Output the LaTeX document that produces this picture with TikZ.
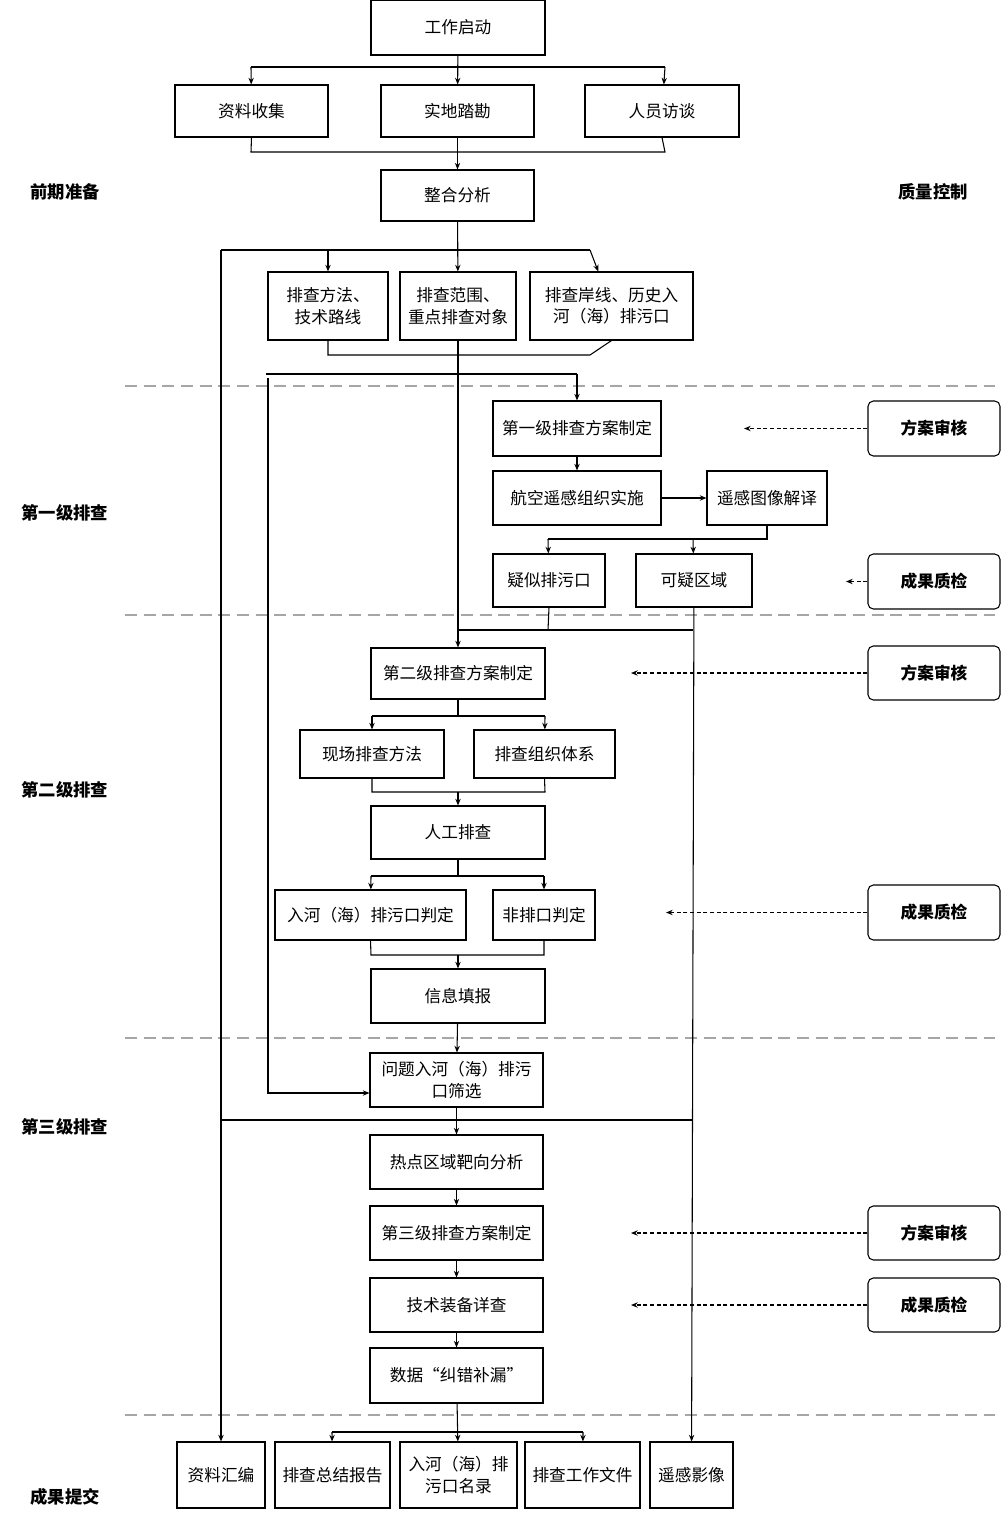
\documentclass[tikz,border=0pt]{standalone}
\usepackage{fontspec}
\setmainfont{Noto Sans CJK SC}
\usetikzlibrary{arrows.meta}
\tikzset{
  box/.style={draw,thick,inner sep=1pt,align=center,font=\fontsize{12.5}{16}\selectfont},
  check/.style={box,rounded corners=4pt},
  stage/.style={font=\fontsize{13}{16}\selectfont\bfseries},
  raja/.style={gray!70,line width=1.4pt,dash pattern=on 9pt off 5pt},
  >={Stealth[length=5pt,width=4pt]}
}
\newcommand\laatikko[7][box]{
\node[#1,minimum width={(#5-#3)*0.75pt},minimum height={(#6-#4)*0.75pt}] (#2) at ({(#3+#5)/2},{(#4+#6)/2}) {#7};
}
\begin{document}
\begin{tikzpicture}[x=0.75pt,y=-0.75pt]
\useasboundingbox (0,0) rectangle (1001,1523);
% laatikot
\laatikko{start}{371}{0}{545}{55}{工作启动}
\laatikko{zl}{175}{85}{328}{137}{资料收集}
\laatikko{sd}{381}{85}{534}{137}{实地踏勘}
\laatikko{ry}{585}{85}{739}{137}{人员访谈}
\laatikko{zh}{381}{170}{534}{221}{整合分析}
\laatikko{ff}{268}{272}{388}{340}{排查方法、\\技术路线}
\laatikko{fw}{400}{272}{516}{340}{排查范围、\\重点排查对象}
\laatikko{ax}{530}{272}{693}{340}{排查岸线、历史入\\河（海）排污口}
\laatikko{y1}{493}{401}{661}{456}{第一级排查方案制定}
\laatikko{hk}{493}{471}{661}{525}{航空遥感组织实施}
\laatikko{yg}{707}{471}{827}{525}{遥感图像解译}
\laatikko{ys}{493}{554}{605}{607}{疑似排污口}
\laatikko{ky}{636}{554}{752}{607}{可疑区域}
\laatikko{y2}{371}{648}{545}{699}{第二级排查方案制定}
\laatikko{xc}{300}{730}{444}{778}{现场排查方法}
\laatikko{zz}{474}{730}{615}{778}{排查组织体系}
\laatikko{rg}{371}{806}{545}{859}{人工排查}
\laatikko{pd}{275}{890}{466}{940}{入河（海）排污口判定}
\laatikko{fp}{493}{890}{595}{940}{非排口判定}
\laatikko{xx}{371}{969}{545}{1023}{信息填报}
\laatikko{wt}{370}{1053}{543}{1107}{问题入河（海）排污\\口筛选}
\laatikko{rd}{370}{1135}{543}{1189}{热点区域靶向分析}
\laatikko{y3}{370}{1206}{543}{1260}{第三级排查方案制定}
\laatikko{jz}{370}{1278}{543}{1332}{技术装备详查}
\laatikko{sj}{370}{1348}{543}{1403}{数据“纠错补漏”}
\laatikko{o1}{177}{1442}{265}{1508}{资料汇编}
\laatikko{o2}{275}{1442}{390}{1508}{排查总结报告}
\laatikko{o3}{400}{1442}{517}{1508}{入河（海）排\\污口名录}
\laatikko{o4}{525}{1442}{640}{1508}{排查工作文件}
\laatikko{o5}{650}{1442}{733}{1508}{遥感影像}
\laatikko[check]{q1}{868}{401}{1000}{456}{\bfseries 方案审核}
\laatikko[check]{q2}{868}{554}{1000}{609}{\bfseries 成果质检}
\laatikko[check]{q3}{868}{646}{1000}{700}{\bfseries 方案审核}
\laatikko[check]{q4}{868}{885}{1000}{940}{\bfseries 成果质检}
\laatikko[check]{q5}{868}{1206}{1000}{1260}{\bfseries 方案审核}
\laatikko[check]{q6}{868}{1278}{1000}{1332}{\bfseries 成果质检}
% vaiheet
\node[stage] (l1) at (65,192) {前期准备};
\node[stage] (l2) at (933,192) {质量控制};
\node[stage] (l3) at (65,513) {第一级排查};
\node[stage] (l4) at (65,790) {第二级排查};
\node[stage] (l5) at (65,1127) {第三级排查};
\node[stage] (l6) at (65,1497) {成果提交};
\foreach \y in {386,615,1038,1415}
  \draw[raja] (125,\y) -- (995,\y);
% liitokset
\coordinate (a1) at (251,67); \coordinate (a2) at (665,67);
\coordinate (b1) at (251,152); \coordinate (b2) at (665,152);
\coordinate (c1) at (221,250); \coordinate (c2) at (328,250); \coordinate (c3) at (590,250);
\coordinate (d1) at (328,355); \coordinate (d2) at (590,355);
\coordinate (e1) at (266,374); \coordinate (e2) at (577,374); \coordinate (e3) at (268,1093);
\coordinate (f1) at (767,539); \coordinate (f2) at (548,539); \coordinate (f3) at (693,539);
\coordinate (g1) at (548,630); \coordinate (g2) at (458,630); \coordinate (g3) at (693,630);
\coordinate (h1) at (372,716); \coordinate (h2) at (545,716);
\coordinate (h3) at (372,792); \coordinate (h4) at (545,792); \coordinate (h5) at (458,792);
\coordinate (i1) at (371,876); \coordinate (i2) at (544,876);
\coordinate (i3) at (371,955); \coordinate (i4) at (544,955); \coordinate (i5) at (458,955);
\coordinate (k1) at (222,1120); \coordinate (k2) at (693,1120);
\coordinate (m1) at (332,1432); \coordinate (m2) at (583,1432);
\draw[thick,->] (start) -- (sd);
\draw[thick] (a1) -- (a2);
\draw[thick,->] (a1) -- (zl);
\draw[thick,->] (a2) -- (ry);
\draw[thick] (zl.south) -- (b1) -- (b2) -- (ry.south);
\draw[thick,->] (sd) -- (zh);
\draw[thick,->] (zh) -- (fw);
\draw[thick] (c1) -- (c3);
\draw[thick,->] (c2) -- (ff);
\draw[thick,->] (c3) -- (ax);
\draw[thick,->] (c1) -- (o1);
\draw[thick] (ff.south) -- (d1) -- (d2) -- (ax.south);
\draw[thick,->] (fw) -- (y2);
\draw[thick] (e1) -- (e2);
\draw[thick,->] (e2) -- (y1);
\draw[thick,->] (268,378) -- (e3) -- (e3 -| wt.west);
\draw[thick,->] (y1) -- (hk);
\draw[thick,->] (hk) -- (yg);
\draw[thick] (yg.south) -- (f1) -- (f2);
\draw[thick,->] (f2) -- (ys);
\draw[thick,->] (f3) -- (ky);
\draw[thick] (ys.south) -- (g1);
\draw[thick] (g2) -- (g3);
\draw[thick,->] (ky) -- (o5);
\draw[thick] (y2) -- (y2 |- h1);
\draw[thick] (h1) -- (h2);
\draw[thick,->] (h1) -- (xc);
\draw[thick,->] (h2) -- (zz);
\draw[thick] (xc.south) -- (h3) -- (h4) -- (zz.south);
\draw[thick,->] (h5) -- (rg);
\draw[thick] (rg) -- (rg |- i1);
\draw[thick] (i1) -- (i2);
\draw[thick,->] (i1) -- (pd);
\draw[thick,->] (i2) -- (fp);
\draw[thick] (pd.south) -- (i3) -- (i4) -- (fp.south);
\draw[thick,->] (i5) -- (xx);
\draw[thick,->] (xx) -- (wt);
\draw[thick,->] (wt) -- (rd);
\draw[thick] (k1) -- (k2);
\draw[thick,->] (rd) -- (y3);
\draw[thick,->] (y3) -- (jz);
\draw[thick,->] (jz) -- (sj);
\draw[thick,->] (sj) -- (o3);
\draw[thick] (m1) -- (m2);
\draw[thick,->] (m1) -- (o2);
\draw[thick,->] (m2) -- (o4);
% laadunvalvonta
\draw[thick,densely dashed,->] (q1) -- ++(-190,0);
\draw[thick,densely dashed,->] (q2) -- ++(-88,0);
\draw[thick,densely dashed,->] (q3) -- ++(-303,0);
\draw[thick,densely dashed,->] (q4) -- ++(-268,0);
\draw[thick,densely dashed,->] (q5) -- ++(-303,0);
\draw[thick,densely dashed,->] (q6) -- ++(-303,0);
\end{tikzpicture}
\end{document}
